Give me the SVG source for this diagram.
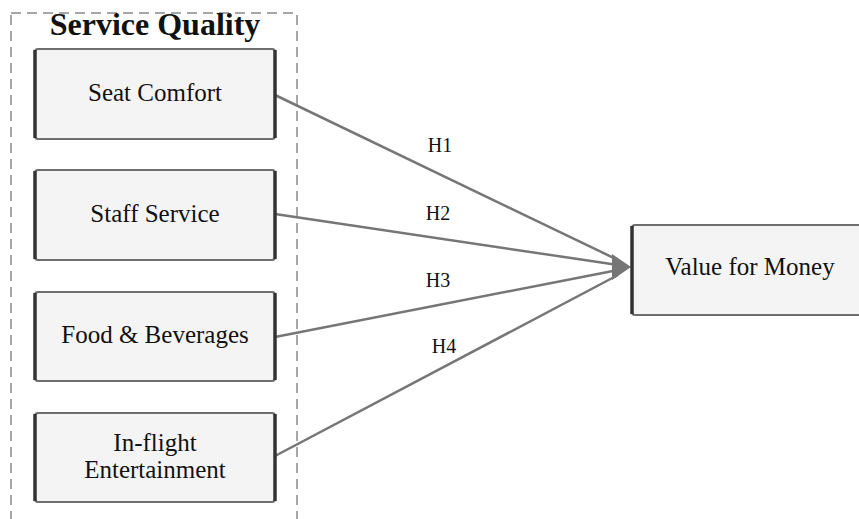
<svg xmlns="http://www.w3.org/2000/svg" width="859" height="519" viewBox="0 0 859 519">
<style>
.grp{fill:none;stroke:#8a8a8a;stroke-width:1.5;stroke-dasharray:10 6}
.box{fill:#f4f4f4;stroke:#6e6e6e;stroke-width:2}
.side{stroke:#333;stroke-width:3.5}
.lbl{font-family:"Liberation Serif","Times New Roman",serif;font-size:25px;fill:#111;text-anchor:middle}
.title{font-family:"Liberation Serif","Times New Roman",serif;font-size:32px;font-weight:bold;fill:#111;text-anchor:middle}
.h{font-family:"Liberation Serif","Times New Roman",serif;font-size:20px;fill:#111;text-anchor:middle}
.con{stroke:#767676;stroke-width:2.5;fill:none}
</style>
<rect width="859" height="519" fill="#fff"/>
<g id="service-quality">
<rect class="grp" x="11" y="13" width="286" height="520"/>
<text class="title" x="155" y="35">Service Quality</text>
</g>
<g id="connectors">
<line class="con" x1="275" y1="95" x2="618" y2="260"/>
<line class="con" x1="275" y1="214" x2="618" y2="265"/>
<line class="con" x1="275" y1="337" x2="618" y2="270"/>
<line class="con" x1="275" y1="456" x2="618" y2="275"/>
<polygon points="631,267 612,254 612,280" fill="#767676"/>
<text class="h" x="440" y="152">H1</text>
<text class="h" x="438" y="220">H2</text>
<text class="h" x="438" y="287">H3</text>
<text class="h" x="444" y="353">H4</text>
</g>
<g id="seat-comfort">
<rect class="box" x="35" y="49" width="240" height="90" rx="3"/>
<line class="side" x1="35" y1="50" x2="35" y2="138"/>
<line class="side" x1="275" y1="50" x2="275" y2="138"/>
<text class="lbl" x="155" y="101">Seat Comfort</text>
</g>
<g id="staff-service">
<rect class="box" x="35" y="170" width="240" height="90" rx="3"/>
<line class="side" x1="35" y1="171" x2="35" y2="259"/>
<line class="side" x1="275" y1="171" x2="275" y2="259"/>
<text class="lbl" x="155" y="222">Staff Service</text>
</g>
<g id="food-beverages">
<rect class="box" x="35" y="292" width="240" height="89" rx="3"/>
<line class="side" x1="35" y1="293" x2="35" y2="380"/>
<line class="side" x1="275" y1="293" x2="275" y2="380"/>
<text class="lbl" x="155" y="343">Food &amp; Beverages</text>
</g>
<g id="inflight-entertainment">
<rect class="box" x="35" y="413" width="240" height="89" rx="3"/>
<line class="side" x1="35" y1="414" x2="35" y2="501"/>
<line class="side" x1="275" y1="414" x2="275" y2="501"/>
<text class="lbl" x="155" y="451">In-flight</text>
<text class="lbl" x="155" y="478">Entertainment</text>
</g>
<g id="value-for-money">
<rect class="box" x="632" y="225" width="240" height="90" rx="3"/>
<line class="side" x1="632" y1="226" x2="632" y2="314"/>
<text class="lbl" x="750" y="275">Value for Money</text>
</g>
</svg>
